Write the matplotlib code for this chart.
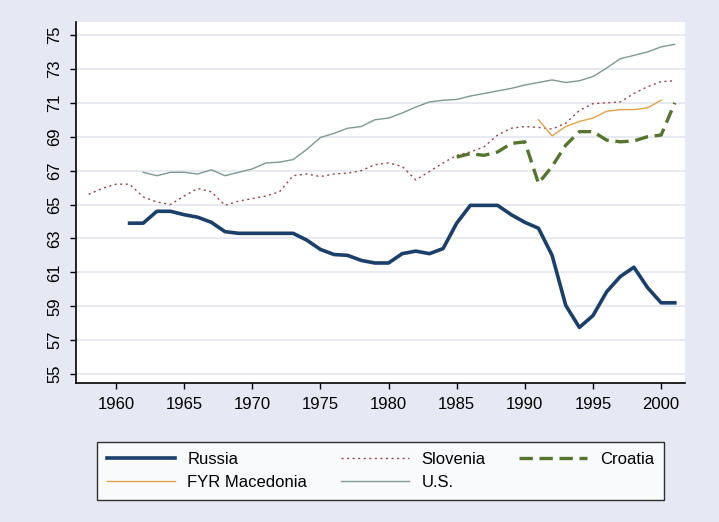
import matplotlib
matplotlib.use("Agg")
import matplotlib.pyplot as plt
import numpy as np

plt.rcParams['font.family'] = ['Liberation Sans', 'DejaVu Sans']

russia_years = list(range(1961, 2002))
russia = [63.9, 63.9, 64.6, 64.6, 64.4, 64.25, 63.95, 63.4, 63.3, 63.3,
          63.3, 63.3, 63.3, 62.9, 62.35, 62.05, 62.0, 61.7, 61.55, 61.55,
          62.1, 62.25, 62.1, 62.4, 63.9, 64.95, 64.95, 64.95, 64.4, 63.95,
          63.6, 62.0, 59.05, 57.75, 58.45, 59.85, 60.75, 61.3, 60.1, 59.2, 59.2]

slovenia_years = list(range(1958, 2002))
slovenia = [65.6, 65.95, 66.2, 66.2, 65.45, 65.15, 65.0, 65.5, 65.95, 65.75,
            64.95, 65.2, 65.35, 65.5, 65.75, 66.7, 66.8, 66.65, 66.8, 66.85,
            67.0, 67.35, 67.45, 67.25, 66.45, 66.95, 67.45, 67.9, 68.1, 68.4,
            69.1, 69.5, 69.6, 69.55, 69.45, 69.8, 70.55, 70.95, 71.0, 71.05,
            71.55, 71.95, 72.25, 72.3]

croatia_years = list(range(1985, 2002))
croatia = [67.8, 68.0, 67.9, 68.1, 68.6, 68.7, 66.25, 67.25, 68.5, 69.3,
           69.3, 68.8, 68.7, 68.75, 69.0, 69.1, 71.0]

macedonia_years = list(range(1991, 2001))
macedonia = [70.0, 69.05, 69.6, 69.9, 70.1, 70.5, 70.6, 70.6, 70.7, 71.15]

us_years = list(range(1962, 2002))
us = [66.9, 66.7, 66.9, 66.9, 66.8, 67.05, 66.7, 66.9, 67.1, 67.45,
      67.5, 67.65, 68.25, 68.95, 69.2, 69.5, 69.6, 70.0, 70.1, 70.4,
      70.75, 71.05, 71.15, 71.2, 71.4, 71.55, 71.7, 71.85, 72.05, 72.2,
      72.35, 72.2, 72.3, 72.55, 73.05, 73.6, 73.8, 74.0, 74.3, 74.45]

x_ticks = [1960, 1965, 1970, 1975, 1980, 1985, 1990, 1995, 2000]
y_ticks = [55, 57, 59, 61, 63, 65, 67, 69, 71, 73, 75]

bg = '#E6E9F3'
fig = plt.figure(figsize=(7.19, 5.22), dpi=100, facecolor=bg)
ax = fig.add_axes([76/719, 1-383/522, (685-76)/719, (383-22.3)/522])
ax.set_facecolor('white')

for y in y_ticks:
    ax.axhline(y, color='#E3E6EE', lw=1.2, zorder=0)

l_r, = ax.plot(russia_years, russia, color='#1A3F6A', lw=2.6, label='Russia',
               solid_joinstyle='round')
l_s, = ax.plot(slovenia_years, slovenia, color='#93474D', lw=1.0,
               linestyle=(0, (1.5, 2.5)), label='Slovenia')
l_c, = ax.plot(croatia_years, croatia, color='#55752F', lw=2.4,
               linestyle=(0, (4, 2)), label='Croatia')
l_m, = ax.plot(macedonia_years, macedonia, color='#E0A24A', lw=1.0,
               label='FYR Macedonia')
l_u, = ax.plot(us_years, us, color='#7D9A90', lw=1.0, label='U.S.')

ax.set_xlim(1957.07, 2001.75)
ax.set_ylim(54.47, 75.75)
ax.set_xticks(x_ticks)
ax.set_yticks(y_ticks)
ax.set_yticklabels([str(v) for v in y_ticks], rotation=90, va='center')
ax.tick_params(axis='both', labelsize=12, length=4, width=1, color='black',
               direction='out')
ax.tick_params(axis='x', pad=6)
ax.tick_params(axis='y', pad=6)
for s in ['top', 'right']:
    ax.spines[s].set_visible(False)
for s in ['left', 'bottom']:
    ax.spines[s].set_color('black')
    ax.spines[s].set_linewidth(1.2)

leg = fig.legend(handles=[l_r, l_m, l_s, l_u, l_c],
                 labels=['Russia', 'FYR Macedonia', 'Slovenia', 'U.S.', 'Croatia'],
                 ncol=3, loc='center',
                 bbox_to_anchor=(380.3/719, 1-470.9/522),
                 frameon=True, fancybox=False, fontsize=12,
                 handlelength=4.1, columnspacing=2.0, handletextpad=0.75,
                 borderpad=0.6, labelspacing=0.5)
leg.get_frame().set_edgecolor('black')
leg.get_frame().set_linewidth(1.0)
leg.get_frame().set_facecolor('white')

fig.savefig('out.png', dpi=100, facecolor=bg)
